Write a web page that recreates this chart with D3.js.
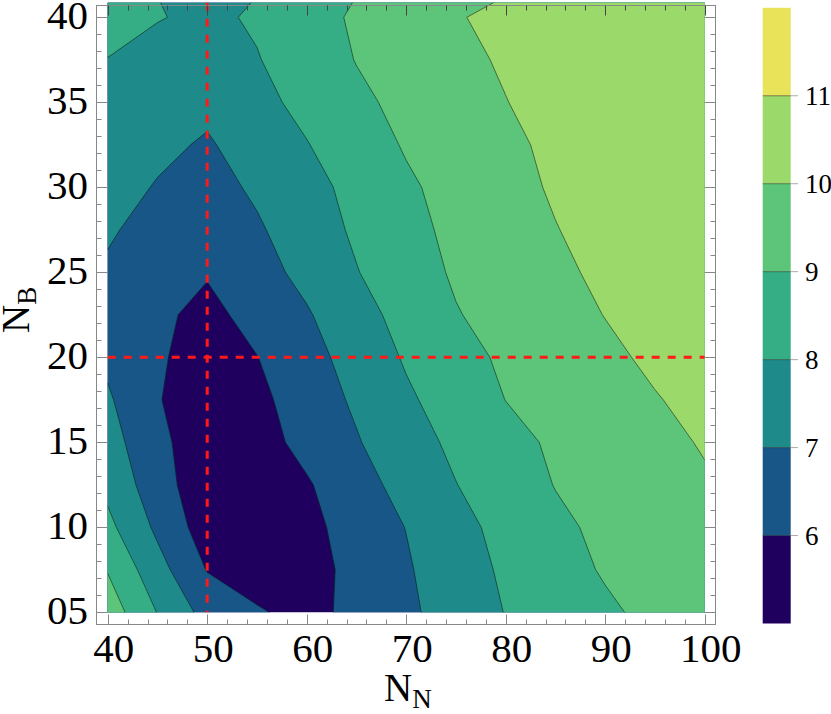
<!DOCTYPE html>
<html><head><meta charset="utf-8">
<script src="https://cdn.jsdelivr.net/npm/d3@7"></script>
<style>
body{margin:0;background:#fff}
svg{display:block}
</style>
</head><body>
<svg id="chart" width="831" height="714"></svg>
<script>
// ---- data (N_N columns, N_B rows) ----
const nnValues = [40,45,50,55,60,65,70,75,80,85,90,95,100];
const nbValues = [5,7.5,10,12.5,15,17.5,20,22.5,25,27.5,30,32.5,35,37.5,40];
const row05  = [9.55,7.97,6.65,6.13,5.60,6.35,6.82,7.42,8.03,8.44,8.84,9.25,9.60];
const row075 = [8.95,7.36,5.96,5.40,5.60,6.30,6.90,7.55,8.15,8.62,9.09,9.45,9.75];
const row10  = [8.25,6.81,5.50,5.30,5.70,6.45,7.02,7.70,8.29,8.81,9.20,9.50,9.80];
const row125 = [7.75,6.43,5.35,5.30,5.90,6.65,7.31,7.98,8.51,9.03,9.31,9.60,9.90];
const row15  = [7.40,6.25,5.40,5.60,6.30,6.93,7.59,8.20,8.71,9.14,9.45,9.76,10.07];
const row175 = [7.13,6.04,5.60,5.75,6.50,7.14,7.85,8.45,9.01,9.32,9.63,9.95,10.25];
const row20  = [6.80,6.10,5.65,5.98,6.66,7.37,8.10,8.68,9.15,9.49,9.82,10.16,10.45];
const row225 = [6.65,6.20,5.72,6.35,6.91,7.64,8.33,8.95,9.32,9.67,10.02,10.35,10.60];
const row25  = [6.85,6.40,6.08,6.65,7.26,7.96,8.58,9.11,9.47,9.82,10.18,10.45,10.70];
const row275 = [7.13,6.60,6.40,6.88,7.52,8.14,8.73,9.21,9.59,9.97,10.30,10.55,10.80];
const row30  = [7.35,6.94,6.65,7.15,7.70,8.26,8.86,9.31,9.71,10.10,10.40,10.65,10.85];
const row325 = [7.55,7.20,6.90,7.43,7.96,8.54,9.08,9.47,9.85,10.15,10.45,10.70,10.90];
const row35  = [7.77,7.45,7.22,7.73,8.26,8.81,9.24,9.61,9.98,10.30,10.55,10.75,10.92];
const row375 = [7.98,7.65,7.50,7.95,8.50,9.03,9.40,9.78,10.10,10.40,10.60,10.80,10.95];
const row40  = [8.35,8.05,7.80,8.12,8.65,9.12,9.52,9.93,10.25,10.50,10.70,10.85,10.97];
const gridRows = [row05,row075,row10,row125,row15,row175,row20,row225,row25,row275,row30,row325,row35,row375,row40];

const contourLevels = [6,7,8,9,10,11];
const bandColors = ["#1f005f","#175687","#1f8a8a","#35ae86","#5cc57a","#9bd96a","#e9e35a"];
const colorbarRange = [5,12];
const xTicks = [40,50,60,70,80,90,100];
const yTicks = [5,10,15,20,25,30,35,40];
const yTickLabels = ["05","10","15","20","25","30","35","40"];
const markNN = 50, markNB = 20;

// ---- pick an installed Times-like serif ----
function pickFont(list){
  const ctx = document.createElement("canvas").getContext("2d");
  const probe = "0123456789NBmwil";
  ctx.font = "40px monospace"; const wm = ctx.measureText(probe).width;
  ctx.font = "40px sans-serif"; const ws = ctx.measureText(probe).width;
  for (const f of list){
    ctx.font = `40px '${f}', monospace`; const a = ctx.measureText(probe).width;
    ctx.font = `40px '${f}', sans-serif`; const b = ctx.measureText(probe).width;
    if (a !== wm || b !== ws) return f;
  }
  return "DejaVu Serif";
}
const FONTNAME = pickFont(["Liberation Serif","Tinos","Times New Roman","Times","Nimbus Roman","Nimbus Roman No9 L","FreeSerif","Noto Serif","DejaVu Serif"]);
const FONT = `'${FONTNAME}', serif`;
const fs = (FONTNAME === "DejaVu Serif" || FONTNAME === "Noto Serif") ? 0.8 : 1;

// ---- layout ----
const svg = d3.select("#chart");
const xS = d3.scaleLinear([40,100],[107.7,704.7]);
const yS = d3.scaleLinear([5,40],[612.3,17.3]);
const frame = {l:96.5, r:715.5, t:5.5, b:624.5};
const fillTop = 2.7;

const n = nnValues.length, m = nbValues.length;
const values = gridRows.flat();
const ix = d3.scaleLinear([0.5, n-0.5],[nnValues[0], nnValues[n-1]]);
const iy = d3.scaleLinear([0.5, m-0.5],[nbValues[0], nbValues[m-1]]);
const proj = d3.geoTransform({point(x,y){ this.stream.point(xS(ix(x)), yS(iy(y))); }});
const path = d3.geoPath(proj);

const thresholds = [d3.min(values)-1].concat(contourLevels);
const contours = d3.contours().size([n,m]).thresholds(thresholds)(values);

svg.append("clipPath").attr("id","clip").append("rect")
  .attr("x",xS(40)).attr("y",fillTop).attr("width",xS(100)-xS(40)).attr("height",yS(5)-fillTop);

const plot = svg.append("g").attr("clip-path","url(#clip)");
plot.selectAll("path.band").data(contours).join("path")
  .attr("class","band").attr("d",path)
  .attr("fill",(d,i)=>bandColors[i]).attr("stroke",(d,i)=>bandColors[i]).attr("stroke-width",0.5);
plot.selectAll("path.iso").data(contours.slice(1)).join("path")
  .attr("class","iso").attr("d",path)
  .attr("fill","none").attr("stroke","rgba(0,0,0,0.5)").attr("stroke-width",1);

// red dashed markers
svg.append("line").attr("x1",xS(markNN)).attr("x2",xS(markNN)).attr("y1",fillTop).attr("y2",yS(5))
  .attr("stroke","#ff1a1a").attr("stroke-width",3).attr("stroke-dasharray","8,8");
svg.append("line").attr("x1",xS(40)).attr("x2",xS(100)).attr("y1",yS(markNB)).attr("y2",yS(markNB))
  .attr("stroke","#ff1a1a").attr("stroke-width",3).attr("stroke-dasharray","8,8");

// frame
const fg = svg.append("g").attr("stroke","#888").attr("stroke-width",1).attr("fill","none");
fg.append("rect").attr("x",frame.l).attr("y",frame.t).attr("width",frame.r-frame.l).attr("height",frame.b-frame.t);
d3.range(40,101,2).forEach(v=>{
  const major = v%10===0, X = Math.round(xS(v))+0.5;
  const L = major?10:5;
  fg.append("line").attr("x1",X).attr("x2",X).attr("y1",frame.b).attr("y2",frame.b-L);
  fg.append("line").attr("x1",X).attr("x2",X).attr("y1",frame.t).attr("y2",frame.t+L).attr("stroke","#444");
});
d3.range(5,41,1).forEach(v=>{
  const major = v%5===0, Y = Math.round(yS(v))+0.5;
  const L = major?11:5;
  fg.append("line").attr("x1",frame.l).attr("x2",frame.l+L).attr("y1",Y).attr("y2",Y);
  fg.append("line").attr("x1",frame.r).attr("x2",frame.r-L).attr("y1",Y).attr("y2",Y);
});

// tick labels
const tickFs = 41*fs;
svg.append("g").selectAll("text").data(xTicks).join("text")
  .attr("font-family",FONT)
  .attr("x",d=>xS(d)+6).attr("y",662).attr("text-anchor","middle")
  .attr("font-size",tickFs).text(d=>d);
svg.append("g").selectAll("text").data(yTicks).join("text")
  .attr("font-family",FONT)
  .attr("x",88).attr("y",d=>yS(d)-2+0.34*tickFs).attr("text-anchor","end")
  .attr("font-size",tickFs).text((d,i)=>yTickLabels[i]);

// axis titles
const xt = svg.append("text").attr("font-family",FONT).attr("x",384).attr("y",701).attr("font-size",39*fs);
xt.append("tspan").text("N");
xt.append("tspan").attr("font-size",27*fs).attr("dy",7).text("N");
const yt = svg.append("text").attr("font-family",FONT).attr("transform","translate(29,333) rotate(-90)").attr("font-size",39*fs);
yt.append("tspan").text("N");
yt.append("tspan").attr("font-size",27*fs).attr("dy",7).text("B");

// colorbar
const cS = d3.scaleLinear(colorbarRange,[623.5,7.8]);
const cb = svg.append("g");
const bandEdges = [colorbarRange[0]].concat(contourLevels,[colorbarRange[1]]);
cb.selectAll("rect").data(d3.range(bandEdges.length-1)).join("rect")
  .attr("x",762.7).attr("width",28).attr("y",i=>cS(bandEdges[i+1])).attr("height",i=>cS(bandEdges[i])-cS(bandEdges[i+1]))
  .attr("fill",i=>bandColors[i]);
cb.selectAll("line.sep").data(contourLevels).join("line").attr("class","sep")
  .attr("x1",762.7).attr("x2",790.7).attr("y1",d=>cS(d)).attr("y2",d=>cS(d))
  .attr("stroke","rgba(0,0,0,0.45)").attr("stroke-width",1);
cb.selectAll("line.tk").data(contourLevels).join("line").attr("class","tk")
  .attr("x1",790.7).attr("x2",798).attr("y1",d=>cS(d)).attr("y2",d=>cS(d))
  .attr("stroke","#aaa").attr("stroke-width",1);
cb.selectAll("text").data(contourLevels).join("text")
  .attr("font-family",FONT)
  .attr("x",805).attr("y",d=>cS(d)+0.34*27*fs).attr("font-size",27*fs).text(d=>d);
</script>
</body></html>
